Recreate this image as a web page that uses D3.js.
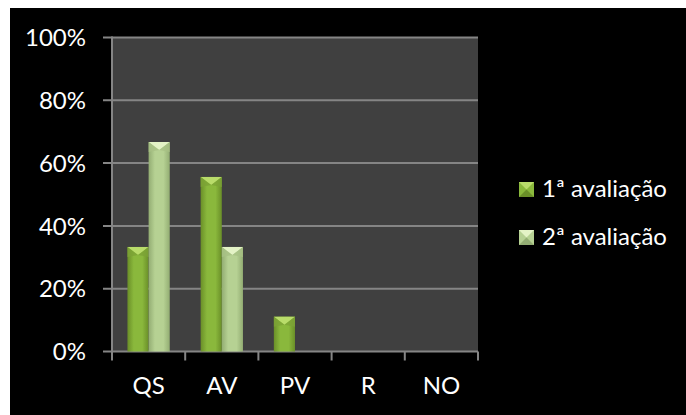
<!DOCTYPE html>
<html><head><meta charset="utf-8">
<script src="https://cdn.jsdelivr.net/npm/d3@7"></script>
<style>html,body{margin:0;padding:0;background:#fff;}svg{display:block;}</style>
</head><body>
<script>
const categories = ["QS", "AV", "PV", "R", "NO"];
const seriesNames = ["1ª avaliação", "2ª avaliação"];
const series1 = [0.333, 0.556, 0.111, 0, 0];
const series2 = [0.667, 0.333, 0, 0, 0];
const yTicks = [0, 0.2, 0.4, 0.6, 0.8, 1.0];

const W = 686, H = 415;
const svg = d3.select("body").append("svg").attr("width", W).attr("height", H);
const defs = svg.append("defs");

const pal = [
  {dark:"#6a8f28", mid:"#8ab83c", light:"#b9dc6a", side:"#7ca236"},
  {dark:"#93ad73", mid:"#b6d193", light:"#e4f3c6", side:"#a7c184"}
];
pal.forEach((p,i)=>{
  const g = defs.append("linearGradient").attr("id","g"+i).attr("x1","0").attr("x2","1").attr("y1","0").attr("y2","0");
  g.append("stop").attr("offset","0").attr("stop-color",p.dark);
  g.append("stop").attr("offset","0.3").attr("stop-color",p.mid);
  g.append("stop").attr("offset","0.7").attr("stop-color",p.mid);
  g.append("stop").attr("offset","1").attr("stop-color",p.dark);
});

svg.append("rect").attr("x",10).attr("y",8).attr("width",W-10).attr("height",H-8).attr("fill","#000");

const x0 = 112, x1 = 478, yTop = 37.5, yBot = 351.5;
const x = d3.scaleBand().domain(categories).range([x0, x1]).paddingInner(0).paddingOuter(0);
const xs = d3.scaleBand().domain([0,1]).range([0, x.bandwidth()]).paddingInner(0).paddingOuter(0.73);
const y = d3.scaleLinear().domain([0,1]).range([yBot, yTop]);

svg.append("rect").attr("x",x0).attr("y",yTop).attr("width",x1-x0).attr("height",yBot-yTop).attr("fill","#404040");

const gridC = "#858585";
svg.append("g").selectAll("line").data(yTicks).join("line")
  .attr("x1",x0-9).attr("x2",x1).attr("y1",d=>y(d)).attr("y2",d=>y(d))
  .attr("stroke",gridC).attr("stroke-width",2);
svg.append("line").attr("x1",x0).attr("x2",x0).attr("y1",yTop-1).attr("y2",yBot+1).attr("stroke",gridC).attr("stroke-width",2);
const xt = categories.map(c=>x(c)).concat([x1]);
svg.append("g").selectAll("line").data(xt).join("line")
  .attr("x1",d=>d).attr("x2",d=>d).attr("y1",yBot).attr("y2",yBot+9)
  .attr("stroke",gridC).attr("stroke-width",2);

const font = "Lato, 'Open Sans', sans-serif";
svg.append("g").selectAll("text").data(yTicks).join("text")
  .attr("x",86).attr("y",d=>y(d)).attr("dy","0.36em").attr("text-anchor","end")
  .attr("fill","#fff").attr("font-family",font).attr("font-size",24)
  .text(d=>d3.format(".0%")(d));
svg.append("g").selectAll("text").data(categories).join("text")
  .attr("x",d=>x(d)+x.bandwidth()/2).attr("y",394).attr("text-anchor","middle")
  .attr("fill","#fff").attr("font-family",font).attr("font-size",24)
  .text(d=>d);

const data = [];
categories.forEach((c,ci)=>{
  [series1, series2].forEach((s,si)=>{ if (s[ci] > 0) data.push({c, si, v:s[ci]}); });
});
const bevel = 8;
const bars = svg.append("g").selectAll("g").data(data).join("g");
bars.each(function(d){
  const g = d3.select(this);
  const bx = x(d.c) + xs(d.si), bw = xs.bandwidth(), by = y(d.v), bh = yBot - by;
  const p = pal[d.si];
  g.append("rect").attr("x",bx).attr("y",by).attr("width",bw).attr("height",bh).attr("fill","url(#g"+d.si+")");
  g.append("path").attr("d",`M${bx},${by}L${bx+bw},${by}L${bx+bw/2},${by+bevel}Z`).attr("fill",p.light);
  g.append("path").attr("d",`M${bx},${by}L${bx+bw/2},${by+bevel}L${bx},${by+bevel+2}Z`).attr("fill",p.side).attr("opacity",0.8);
  g.append("path").attr("d",`M${bx+bw},${by}L${bx+bw/2},${by+bevel}L${bx+bw},${by+bevel+2}Z`).attr("fill",p.side).attr("opacity",0.8);
});

const leg = svg.append("g").selectAll("g").data(seriesNames).join("g")
  .attr("transform",(d,i)=>`translate(519,${182+i*48})`);
leg.each(function(d,i){
  const g = d3.select(this); const p = pal[i]; const s = 15;
  g.append("rect").attr("width",s).attr("height",s).attr("fill",p.mid);
  g.append("path").attr("d",`M0,0L${s},0L${s/2},${s/2}Z`).attr("fill",p.light);
  g.append("path").attr("d",`M0,${s}L${s},${s}L${s/2},${s/2}Z`).attr("fill",p.dark);
  g.append("text").attr("x",23).attr("y",s).attr("fill","#fff")
    .attr("font-family",font).attr("font-size",24).text(d);
});
</script>
</body></html>
